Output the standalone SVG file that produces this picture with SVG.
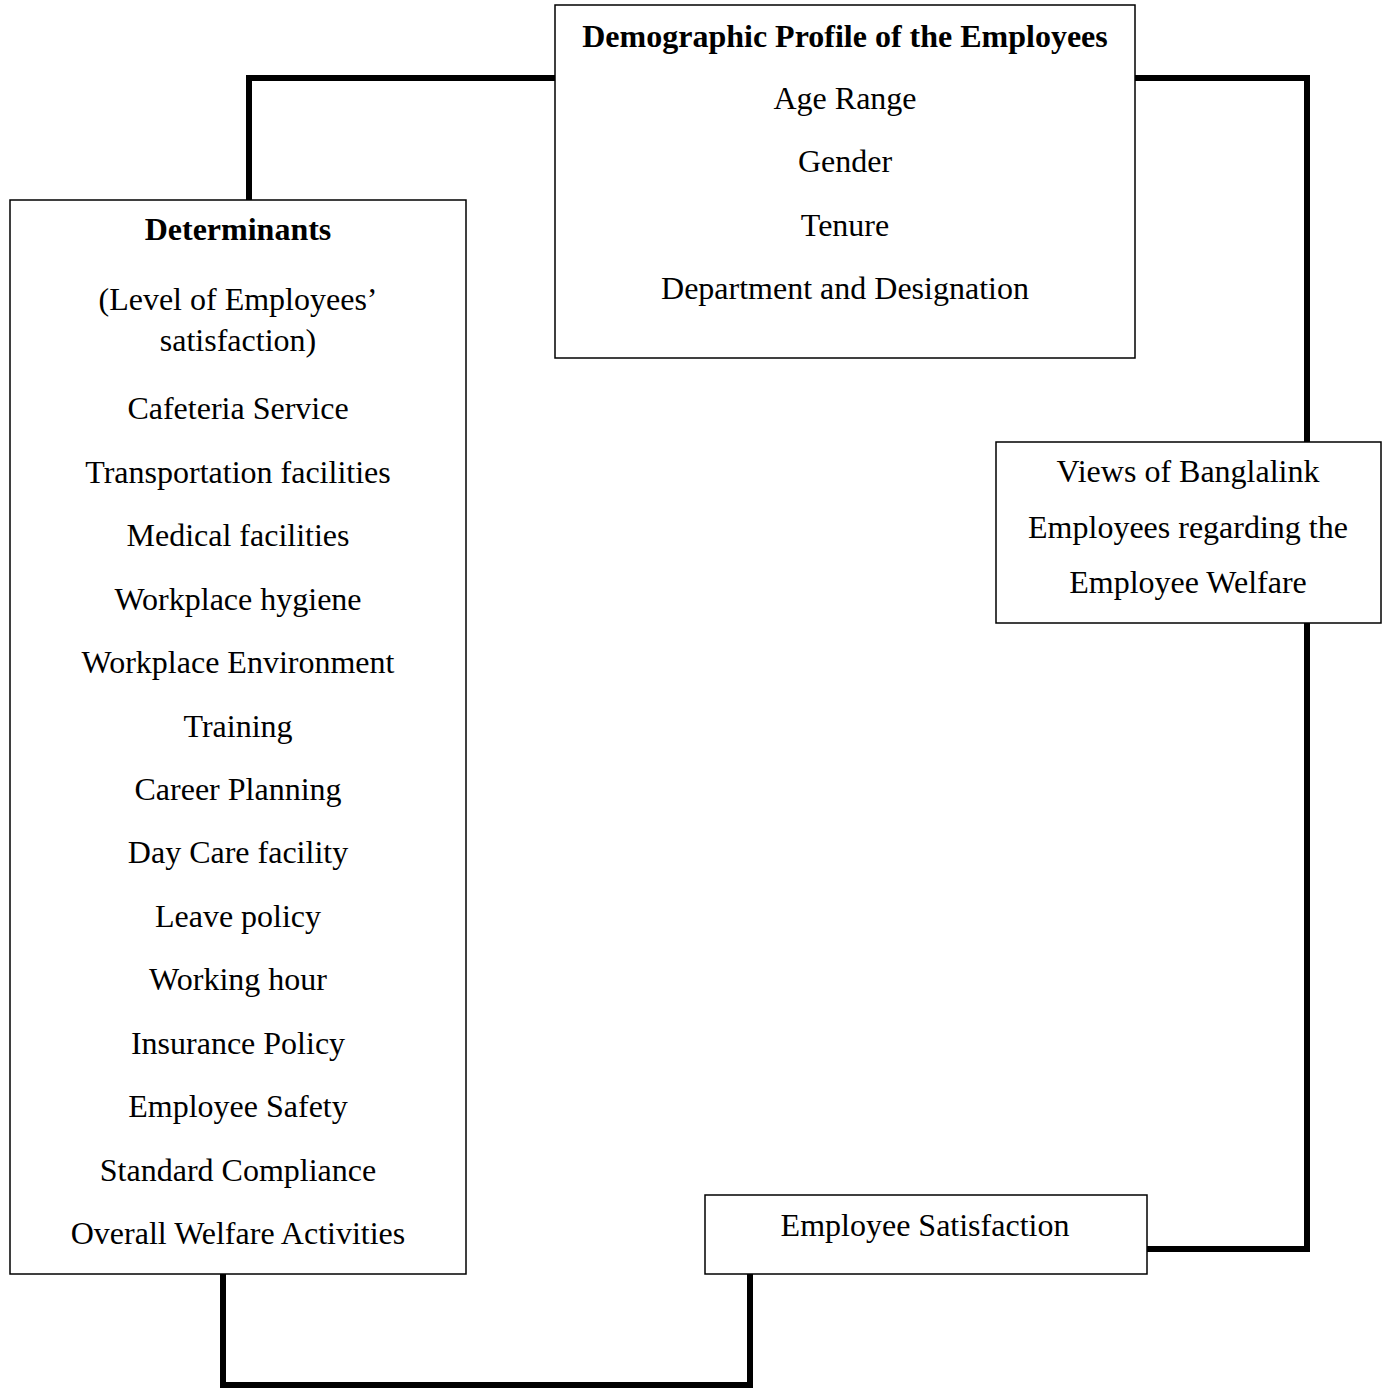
<svg xmlns="http://www.w3.org/2000/svg" width="1388" height="1390" viewBox="0 0 1388 1390">
<style>
.box{fill:#fff;stroke:#000;stroke-width:1.5}
.conn{fill:none;stroke:#000;stroke-width:6;stroke-linejoin:miter;stroke-linecap:square}
text{font-family:"Liberation Serif","Times New Roman",serif;font-size:32px;fill:#000;text-anchor:middle}
.b{font-weight:bold}
</style>
<rect width="1388" height="1390" fill="#fff"/>
<g id="connectors">
<polyline class="conn" points="555,78 249,78 249,200"/>
<polyline class="conn" points="1135,78 1307,78 1307,442"/>
<polyline class="conn" points="1307,623 1307,1249 1147,1249"/>
<polyline class="conn" points="223,1274 223,1385 750,1385 750,1274"/>
</g>
<g id="demographic">
<rect class="box" x="555" y="5" width="580" height="353"/>
<text class="b" x="845" y="47">Demographic Profile of the Employees</text>
<text x="845" y="109">Age Range</text>
<text x="845" y="172">Gender</text>
<text x="845" y="236">Tenure</text>
<text x="845" y="299">Department and Designation</text>
</g>
<g id="determinants">
<rect class="box" x="10" y="200" width="456" height="1074"/>
<text class="b" x="238" y="240">Determinants</text>
<text x="238" y="310">(Level of Employees’</text>
<text x="238" y="351">satisfaction)</text>
<text x="238" y="419">Cafeteria Service</text>
<text x="238" y="483">Transportation facilities</text>
<text x="238" y="546">Medical facilities</text>
<text x="238" y="610">Workplace hygiene</text>
<text x="238" y="673">Workplace Environment</text>
<text x="238" y="737">Training</text>
<text x="238" y="800">Career Planning</text>
<text x="238" y="863">Day Care facility</text>
<text x="238" y="927">Leave policy</text>
<text x="238" y="990">Working hour</text>
<text x="238" y="1054">Insurance Policy</text>
<text x="238" y="1117">Employee Safety</text>
<text x="238" y="1181">Standard Compliance</text>
<text x="238" y="1244">Overall Welfare Activities</text>
</g>
<g id="views">
<rect class="box" x="996" y="442" width="385" height="181"/>
<text x="1188" y="482">Views of Banglalink</text>
<text x="1188" y="538">Employees regarding the</text>
<text x="1188" y="593">Employee Welfare</text>
</g>
<g id="satisfaction">
<rect class="box" x="705" y="1195" width="442" height="79"/>
<text x="925" y="1236">Employee Satisfaction</text>
</g>
</svg>
